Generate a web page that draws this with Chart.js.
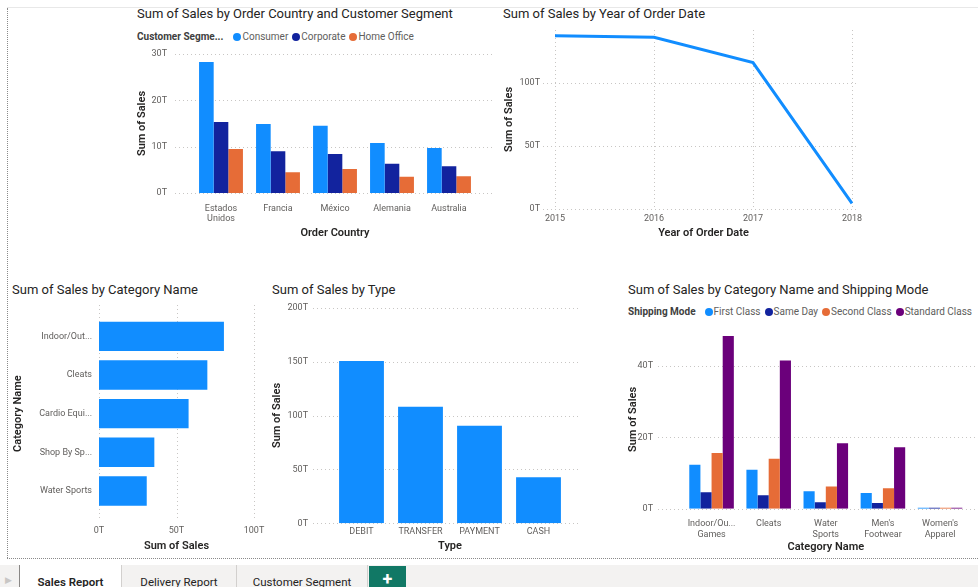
<!DOCTYPE html>
<html><head><meta charset="utf-8">
<script src="https://cdn.jsdelivr.net/npm/chart.js@4.4.1/dist/chart.umd.min.js"></script>
<style>
html,body{margin:0;padding:0;background:#fff;}
body{width:978px;height:587px;position:relative;overflow:hidden;font-family:Roboto,sans-serif;}
.abs{position:absolute;}
.title{position:absolute;font-size:13px;color:#252423;white-space:nowrap;line-height:16px;}
.legend{position:absolute;font-size:10px;color:#605E5C;white-space:nowrap;line-height:12px;display:flex;align-items:center;}
.legend b{color:#404040;font-weight:700;}
.legend .dot{width:8px;height:8px;border-radius:50%;display:inline-block;}
canvas{position:absolute;}
.tab{position:absolute;top:565px;height:22px;font-size:11.5px;color:#252423;text-align:center;line-height:12px;box-sizing:border-box;padding-top:11px;}
</style>
</head><body>
<div class="abs" style="left:7px;top:7px;width:971px;height:1px;background:#e8e8e8"></div>
<div class="abs" style="left:7px;top:8px;width:0;height:550px;border-left:1px dotted #8a8a8a"></div>
<div class="abs" style="left:7px;top:558px;width:971px;height:0;border-top:1px dotted #8a8a8a"></div>

<div class="title" style="left:137px;top:6px">Sum of Sales by Order Country and Customer Segment</div>
<div class="legend" style="left:137px;top:31px">
 <b>Customer Segme...</b><span style="width:10px"></span>
 <span class="dot" style="background:#118DFF"></span><span style="margin-left:1px">Consumer</span><span style="width:4px"></span>
 <span class="dot" style="background:#12239E"></span><span style="margin-left:1px">Corporate</span><span style="width:4px"></span>
 <span class="dot" style="background:#E66C37"></span><span style="margin-left:1px">Home Office</span>
</div>
<div class="title" style="left:503px;top:6px">Sum of Sales by Year of Order Date</div>
<div class="title" style="left:12px;top:282px">Sum of Sales by Category Name</div>
<div class="title" style="left:272px;top:282px">Sum of Sales by Type</div>
<div class="title" style="left:628px;top:282px">Sum of Sales by Category Name and Shipping Mode</div>
<div class="legend" style="left:628px;top:306px">
 <b>Shipping Mode</b><span style="width:9px"></span>
 <span class="dot" style="background:#118DFF"></span><span style="margin-left:1px">First Class</span><span style="width:4px"></span>
 <span class="dot" style="background:#12239E"></span><span style="margin-left:1px">Same Day</span><span style="width:4px"></span>
 <span class="dot" style="background:#E66C37"></span><span style="margin-left:1px">Second Class</span><span style="width:4px"></span>
 <span class="dot" style="background:#6B007B"></span><span style="margin-left:1px">Standard Class</span>
</div>

<canvas id="c1" width="368" height="205" style="left:125px;top:40px"></canvas>
<canvas id="c2" width="488" height="223" style="left:490px;top:22px"></canvas>
<canvas id="c3" width="262" height="255" style="left:8px;top:300px"></canvas>
<canvas id="c4" width="318" height="257" style="left:262px;top:298px"></canvas>
<canvas id="c5" width="358" height="237" style="left:620px;top:318px"></canvas>

<div class="abs" style="left:0;top:565px;width:978px;height:22px;background:#f3f2f1"></div>
<div class="abs" style="left:5px;top:575px;font-size:9px;color:#c8c6c4">&#9654;</div>
<div class="abs" style="left:19px;top:565px;width:1px;height:22px;background:#8a8886"></div>
<div class="tab" style="left:20px;width:101px;background:#fff;font-weight:600">Sales Report</div>
<div class="tab" style="left:121px;width:115px;border-left:1px solid #d2d0ce">Delivery Report</div>
<div class="tab" style="left:236px;width:132px;border-left:1px solid #d2d0ce;border-right:1px solid #d2d0ce">Customer Segment</div>
<div class="abs" style="left:369px;top:566px;width:37px;height:21px;background:#117865;color:#fff;font-size:18px;font-weight:700;text-align:center;line-height:26px">+</div>

<script>
// ---- data ----
const countries = [["Estados","Unidos"], "Francia", "México", "Alemania", "Australia"];
const segConsumer = [28.3, 14.9, 14.5, 10.8, 9.7];
const segCorporate = [15.3, 9.0, 8.4, 6.3, 5.8];
const segHomeOffice = [9.5, 4.5, 5.2, 3.5, 3.6];
const ticks1 = [0, 10, 20, 30];

const years = ["2015", "2016", "2017", "2018"];
const salesByYear = [137.5, 136.2, 116.1, 4.5];
const ticks2 = [0, 50, 100];

const categories = ["Indoor/Out...", "Cleats", "Cardio Equi...", "Shop By Sp...", "Water Sports"];
const salesByCategory = [80.6, 69.9, 57.8, 35.7, 30.8];
const ticks3 = [0, 50, 100];

const types = ["DEBIT", "TRANSFER", "PAYMENT", "CASH"];
const salesByType = [150.6, 108.2, 90.5, 42.7];
const ticks4 = [0, 50, 100, 150, 200];

const shipCategories = [["Indoor/Ou...","Games"], "Cleats", ["Water","Sports"], ["Men's","Footwear"], ["Women's","Apparel"]];
const shipFirst = [12.3, 10.9, 4.9, 4.4, 0.3];
const shipSameDay = [4.6, 3.8, 1.8, 1.6, 0.3];
const shipSecond = [15.6, 14.0, 6.2, 5.7, 0.3];
const shipStandard = [48.4, 41.5, 18.3, 17.2, 0.3];
const ticks5 = [0, 20, 40];

// ---- styling ----
const C_BLUE = '#118DFF', C_NAVY = '#12239E', C_ORANGE = '#E66C37', C_PURPLE = '#6B007B';
Chart.defaults.font.family = 'Roboto, sans-serif';
Chart.defaults.color = '#605E5C';
Chart.defaults.animation = false;
Chart.defaults.responsive = false;
Chart.defaults.plugins.legend.display = false;
Chart.defaults.plugins.tooltip.enabled = false;

const tickFont = {size: 9};
const titleFont = {size: 11, weight: '600'};
const titleColor = '#252423';
const fmtT = v => v + 'T';

const pbiGrid = {
  id: 'pbiGrid',
  beforeDatasetsDraw(chart, args, o) {
    const {ctx, chartArea: a} = chart;
    const vs = chart.scales[o.valueAxis];
    ctx.save();
    ctx.strokeStyle = '#c8c6c4';
    ctx.lineWidth = 1;
    ctx.setLineDash([1, 3]);
    const l = a.left - (o.extL || 0), r = a.right + (o.extR || 0);
    const t = a.top - (o.extT || 0), b = a.bottom + (o.extB || 0);
    vs.ticks.forEach(tk => {
      const p = Math.round(vs.getPixelForValue(tk.value)) + 0.5;
      ctx.beginPath();
      if (vs.isHorizontal()) { ctx.moveTo(p, t); ctx.lineTo(p, b); }
      else { ctx.moveTo(l, p); ctx.lineTo(r, p); }
      ctx.stroke();
    });
    if (o.catAxis) {
      const cs = chart.scales[o.catAxis];
      cs.ticks.forEach((tk, i) => {
        const p = Math.round(cs.getPixelForTick(i)) + 0.5;
        ctx.beginPath(); ctx.moveTo(p, t); ctx.lineTo(p, b); ctx.stroke();
      });
    }
    ctx.restore();
  }
};

function fixSize(s, size, horizontal) {
  if (horizontal) s.height = size; else s.width = size;
  s.paddingTop = 0; s.paddingBottom = 0; s.paddingLeft = 0; s.paddingRight = 0;
}
function valueAxis(max, tickVals, size, tickPad, title, titlePad, horizontal) {
  return {
    type: 'linear', min: 0, max: max, bounds: 'data',
    grid: {display: false, drawTicks: false}, border: {display: false},
    afterBuildTicks: s => { s.ticks = tickVals.map(v => ({value: v})); },
    ticks: {font: tickFont, color: '#605E5C', padding: tickPad, callback: fmtT, autoSkip: false, maxRotation: 0},
    title: {display: true, text: title, font: titleFont, color: titleColor,
            padding: horizontal ? {top: 0, bottom: titlePad} : {top: titlePad, bottom: 0}},
    afterFit: s => fixSize(s, size, horizontal)
  };
}
function catAxis(size, tickPad, title, titlePad, horizontal, offset) {
  return {
    type: 'category', offset: offset,
    grid: {display: false, drawTicks: false}, border: {display: false},
    ticks: {font: tickFont, color: '#605E5C', padding: tickPad, autoSkip: false, maxRotation: 0},
    title: {display: true, text: title, font: titleFont, color: titleColor,
            padding: horizontal ? {top: 0, bottom: titlePad} : {top: titlePad, bottom: 0}},
    afterFit: s => fixSize(s, size, horizontal)
  };
}
const barDs = (data, color) => ({data: data, backgroundColor: color, borderWidth: 0});

// Chart 1
new Chart(document.getElementById('c1'), {
  type: 'bar',
  data: {labels: countries, datasets: [barDs(segConsumer, C_BLUE), barDs(segCorporate, C_NAVY), barDs(segHomeOffice, C_ORANGE)]},
  plugins: [pbiGrid],
  options: {
    layout: {padding: {top: 14, right: 15.5, bottom: 0, left: 0}},
    datasets: {bar: {categoryPercentage: 0.77, barPercentage: 1.0}},
    scales: {
      x: catAxis(52, 10, 'Order Country', 5.4, true, true),
      y: valueAxis(30, ticks1, 67.5, 25.5, 'Sum of Sales', 10.4, false)
    },
    plugins: {pbiGrid: {valueAxis: 'y', extL: 17.5, extR: 15.5}}
  }
});

// Chart 2
new Chart(document.getElementById('c2'), {
  type: 'line',
  data: {labels: years, datasets: [{data: salesByYear, borderColor: C_BLUE, borderWidth: 3, pointRadius: 0, tension: 0, fill: false}]},
  plugins: [pbiGrid],
  options: {
    layout: {padding: {top: 8, right: 126, bottom: 0, left: 0}},
    scales: {
      x: catAxis(36, 4.6, 'Year of Order Date', 5.1, true, false),
      y: valueAxis(142, ticks2, 65, 15, 'Sum of Sales', 12.4, false)
    },
    plugins: {pbiGrid: {valueAxis: 'y', catAxis: 'x', extL: 12, extR: 5}}
  }
});

// Chart 3
new Chart(document.getElementById('c3'), {
  type: 'bar',
  data: {labels: categories, datasets: [barDs(salesByCategory, C_BLUE)]},
  plugins: [pbiGrid],
  options: {
    indexAxis: 'y',
    layout: {padding: {top: 17, right: 16, bottom: 0, left: 0}},
    datasets: {bar: {categoryPercentage: 0.76, barPercentage: 1.0}},
    scales: {
      x: valueAxis(100, ticks3, 44.7, 15.3, 'Sum of Sales', 2.4, true),
      y: catAxis(91, 7, 'Category Name', 3.7, false, true)
    },
    plugins: {pbiGrid: {valueAxis: 'x', extT: 12, extB: 8}}
  }
});

// Chart 4
new Chart(document.getElementById('c4'), {
  type: 'bar',
  data: {labels: types, datasets: [barDs(salesByType, C_BLUE)]},
  plugins: [pbiGrid],
  options: {
    layout: {padding: {top: 9.7, right: 12, bottom: 0, left: 0}},
    datasets: {bar: {categoryPercentage: 0.76, barPercentage: 1.0}},
    scales: {
      x: catAxis(31.7, 3, 'Type', 1.7, true, true),
      y: valueAxis(200, ticks4, 70, 24, 'Sum of Sales', 8.4, false)
    },
    plugins: {pbiGrid: {valueAxis: 'y', extL: 19, extR: 12}}
  }
});

// Chart 5
new Chart(document.getElementById('c5'), {
  type: 'bar',
  data: {labels: shipCategories, datasets: [barDs(shipFirst, C_BLUE), barDs(shipSameDay, C_NAVY), barDs(shipSecond, C_ORANGE), barDs(shipStandard, C_PURPLE)]},
  plugins: [pbiGrid],
  options: {
    layout: {padding: {top: 12.2, right: 9.4, bottom: 0, left: 0}},
    datasets: {bar: {categoryPercentage: 0.78, barPercentage: 1.0}},
    scales: {
      x: catAxis(46.3, 9.9, 'Category Name', 1.1, true, true),
      y: valueAxis(50, ticks5, 63, 30, 'Sum of Sales', 6.4, false)
    },
    plugins: {pbiGrid: {valueAxis: 'y', extL: 25, extR: 9.4}}
  }
});
</script>
</body></html>
